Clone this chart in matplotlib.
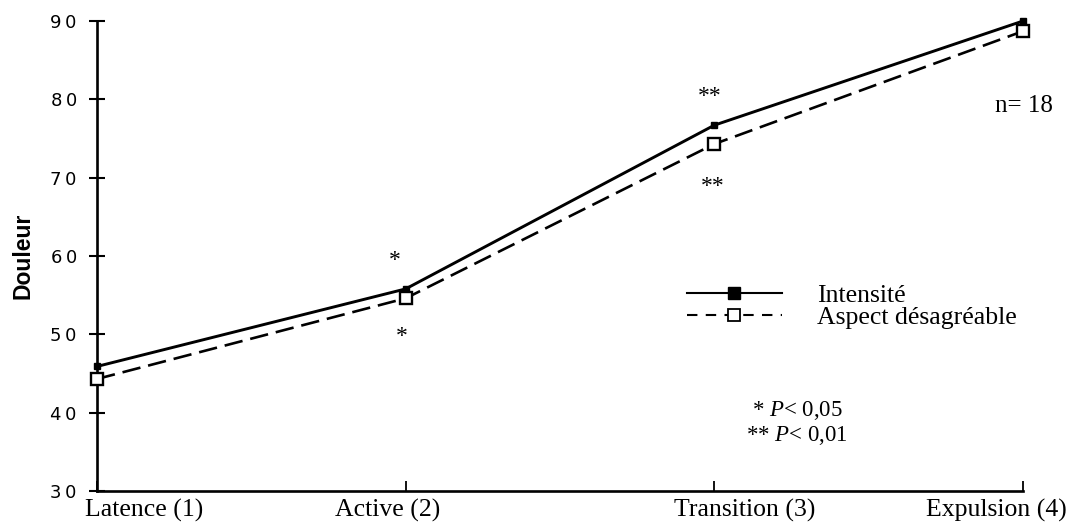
import matplotlib
matplotlib.use("Agg")
import matplotlib.pyplot as plt
import matplotlib.transforms as mtransforms
from matplotlib.lines import Line2D

plt.rcParams["mathtext.fontset"] = "custom"
plt.rcParams["mathtext.rm"] = "Liberation Serif"
plt.rcParams["mathtext.it"] = "Liberation Serif:italic"

# phases of labour and mean pain scores
PHASES = ["Latence (1)", "Active (2)", "Transition (3)", "Expulsion (4)"]
PHASE_X = [1, 2, 3, 4]
INTENSITE = [45.9, 55.8, 76.7, 90.0]
DESAGREABLE = [44.3, 54.6, 74.3, 88.7]
Y_TICKS = [30, 40, 50, 60, 70, 80, 90]

# significance marks: (x, y, text)
STARS = [
    (1.965, 58.7, "*"),
    (1.988, 49.0, "*"),
    (2.986, 79.7, "**"),
    (2.995, 68.2, "**"),
]
# left edge of each phase label in data x
LABEL_X = [0.96, 1.77, 2.87, 3.685]

SERIF = "Liberation Serif"

fig = plt.figure(figsize=(10.68, 5.24), dpi=100)
ax = fig.add_axes([97 / 1068, 33 / 524, 926 / 1068, 470 / 524])

ax.plot(PHASE_X, INTENSITE, color="black", lw=2.1, ls="-",
        marker="s", ms=5, mfc="black", mec="black", clip_on=False, zorder=3)
ax.plot(PHASE_X, DESAGREABLE, color="black", lw=1.9, ls=(0, (7, 3)),
        marker="s", ms=9, mfc="white", mec="black", mew=1.7, clip_on=False, zorder=4)

ax.set_xlim(1, 4)
ax.set_ylim(30, 90)
for side in ("top", "right"):
    ax.spines[side].set_visible(False)
for side in ("left", "bottom"):
    ax.spines[side].set_linewidth(1.9)

ax.set_xticks(PHASE_X)
ax.set_xticklabels([])
ax.tick_params(axis="x", direction="in", length=7, width=1.3)

ax.set_yticks(Y_TICKS)
ax.set_yticklabels(["\u2009".join(str(t)) for t in Y_TICKS],
                   family="DejaVu Sans", fontsize=13)
ax.tick_params(axis="y", direction="inout", length=11, width=1.5, pad=9)

ax.set_ylabel("Douleur", family="Liberation Sans", fontweight="bold", fontsize=16.5)
ax.yaxis.set_label_coords(-0.068, 0.5)

# phase names under the axis
trans = mtransforms.blended_transform_factory(ax.transData, fig.transFigure)
for x, name in zip(LABEL_X, PHASES):
    ax.text(x, 7 / 524, name, transform=trans, ha="left", va="baseline",
            family=SERIF, fontsize=18.5, clip_on=False)

for x, y, s in STARS:
    ax.text(x, y, s, ha="center", va="baseline", family=SERIF, fontsize=17)

ax.text(3.91, 79.1, "n= 18", ha="left", va="center", family=SERIF, fontsize=18)

ax.text(3.268, 40.3, "* $P$< 0,05", ha="center", va="center", family=SERIF, fontsize=16.5)
ax.text(3.268, 37.1, "** $P$< 0,01", ha="center", va="center", family=SERIF, fontsize=16.5)

# legend, one row per series
h_int = Line2D([], [], color="black", lw=1.5, ls="-", marker="s", ms=8,
               mfc="black", mec="black")
h_des = Line2D([], [], color="black", lw=1.5, ls=(0, (5, 4)), marker="s", ms=8,
               mfc="white", mec="black", mew=1.3)
common = dict(frameon=False, loc="center left", borderpad=0, borderaxespad=0,
              handlelength=3.7, handletextpad=1.35, numpoints=1,
              prop={"family": SERIF, "size": 18.5})
leg1 = ax.legend([h_int], ["Intensité"], bbox_to_anchor=(0.637, 0.415),
                 bbox_transform=ax.transAxes, **common)
ax.add_artist(leg1)
ax.legend([h_des], ["Aspect désagréable"], bbox_to_anchor=(0.637, 0.370),
          bbox_transform=ax.transAxes, **common)

fig.savefig("out.png", dpi=100)
